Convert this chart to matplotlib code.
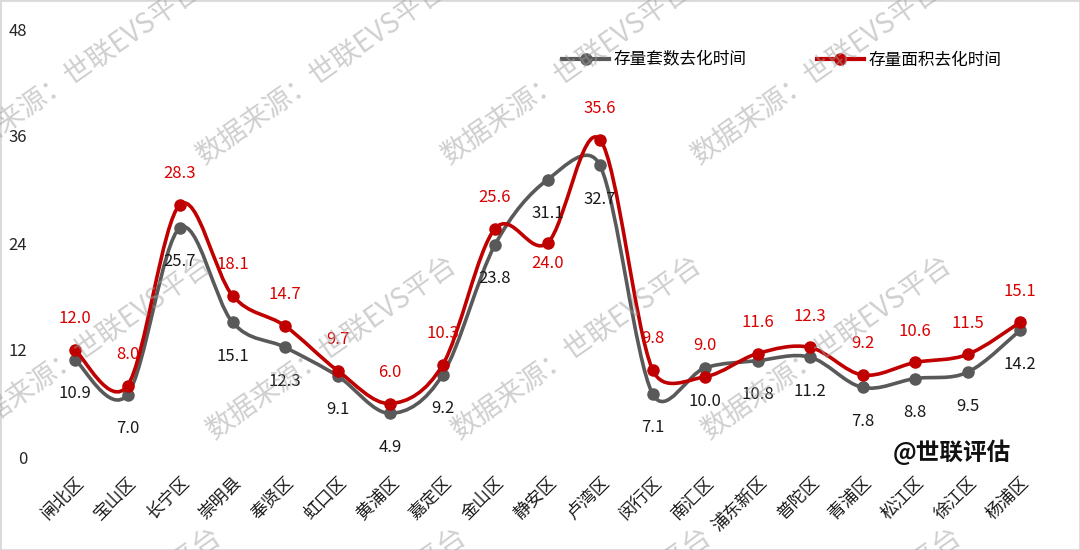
import matplotlib
matplotlib.use('Agg')
import matplotlib.pyplot as plt
import numpy as np
from matplotlib.path import Path
from matplotlib.patches import PathPatch, Rectangle

plt.rcParams['font.family'] = ['Noto Sans CJK SC', 'DejaVu Sans']

# data
districts = ['闸北区', '宝山区', '长宁区', '崇明县', '奉贤区', '虹口区', '黄浦区', '嘉定区',
             '金山区', '静安区', '卢湾区', '闵行区', '南汇区', '浦东新区', '普陀区', '青浦区',
             '松江区', '徐江区', '杨浦区']
units_time = [10.9, 7.0, 25.7, 15.1, 12.3, 9.1, 4.9, 9.2, 23.8, 31.1, 32.7, 7.1, 10.0,
              10.8, 11.2, 7.8, 8.8, 9.5, 14.2]
area_time = [12.0, 8.0, 28.3, 18.1, 14.7, 9.7, 6.0, 10.3, 25.6, 24.0, 35.6, 9.8, 9.0,
             11.6, 12.3, 9.2, 10.6, 11.5, 15.1]
y_ticks = [0, 12, 24, 36, 48]
series_names = ['存量套数去化时间', '存量面积去化时间']

GRAY = '#595959'
RED = '#C00000'
W, H = 1080, 550


def smooth_path(ax, xs, ys):
    # excel-like bezier smoothing, control points computed in pixel space
    pts = ax.transData.transform(np.column_stack([xs, ys]))
    n = len(pts)
    verts = [pts[0]]
    codes = [Path.MOVETO]
    for i in range(n - 1):
        p0 = pts[max(i - 1, 0)]
        p1 = pts[i]
        p2 = pts[i + 1]
        p3 = pts[min(i + 2, n - 1)]
        d12 = np.hypot(*(p2 - p1))
        d02 = np.hypot(*(p2 - p0))
        d13 = np.hypot(*(p3 - p1))
        f0 = min(1 / 6, d12 / (2 * d02)) if d02 > 0 else 0
        f3 = min(1 / 6, d12 / (2 * d13)) if d13 > 0 else 0
        verts += [p1 + f0 * (p2 - p0), p2 - f3 * (p3 - p1), p2]
        codes += [Path.CURVE4] * 3
    verts = ax.transData.inverted().transform(np.array(verts))
    return Path(verts, codes)


fig = plt.figure(figsize=(W / 100, H / 100), dpi=100)
ax = fig.add_axes([48.75 / W, 93 / H, 997.5 / W, 428 / H])
x = np.arange(len(districts))
ax.set_xlim(-0.5, len(districts) - 0.5)
ax.set_ylim(0, 48)

for vals, col, z in [(units_time, GRAY, 3), (area_time, RED, 4)]:
    ax.add_patch(PathPatch(smooth_path(ax, x, vals), facecolor='none', edgecolor=col,
                           lw=2.6, zorder=z, capstyle='round'))
    ax.plot(x, vals, 'o', color=col, ms=8, zorder=z + 0.5)

# data labels
for i in range(len(districts)):
    ax.annotate(f'{units_time[i]:.1f}', (x[i], units_time[i]), xytext=(0, -24.5),
                textcoords='offset points', ha='center', va='center', fontsize=12,
                color='#1a1a1a', zorder=6)
    dy = -15 if districts[i] == '静安区' else 22.5
    ax.annotate(f'{area_time[i]:.1f}', (x[i], area_time[i]), xytext=(0, dy),
                textcoords='offset points', ha='center', va='center', fontsize=12,
                color='#D90000', zorder=6)

ax.set_yticks(y_ticks)
ax.set_xticks(x)
ax.set_xticklabels(districts)
ax.tick_params(axis='y', length=0, pad=15.5, labelsize=12, labelcolor='#262626')
ax.tick_params(axis='x', length=0, pad=12, labelsize=12.5, labelcolor='#1a1a1a')
plt.setp(ax.get_xticklabels(), rotation=45, ha='right', rotation_mode='anchor')
for s in ax.spines.values():
    s.set_visible(False)

# legend
handles = [plt.Line2D([], [], color=GRAY, lw=3, marker='o', ms=8),
           plt.Line2D([], [], color=RED, lw=3, marker='o', ms=8)]
fig.legend(handles, series_names, loc='center', bbox_to_anchor=(782 / W, 1 - 60 / H),
           ncol=2, frameon=False, fontsize=12, handlelength=2.8, handletextpad=0.3,
           columnspacing=4.2)

fig.text(952 / W, 1 - 452 / H, '@世联评估', ha='center', va='center', fontsize=17,
         fontweight='bold', color='#111111', zorder=8)

# watermark
for row, y0 in enumerate([165, 440, 712]):
    for x0 in [-40, 205, 450, 700]:
        fig.text((x0 + 10 * row) / W, 1 - y0 / H, '数据来源：世联EVS平台', rotation=35,
                 rotation_mode='anchor', ha='left', va='baseline', fontsize=20,
                 color='#a0a0a0', alpha=0.5, zorder=10)

fig.patches.append(Rectangle((0, 0), 1, 1, transform=fig.transFigure, fill=False,
                             edgecolor='#d9d9d9', lw=2))

fig.savefig('out.png', dpi=100)
